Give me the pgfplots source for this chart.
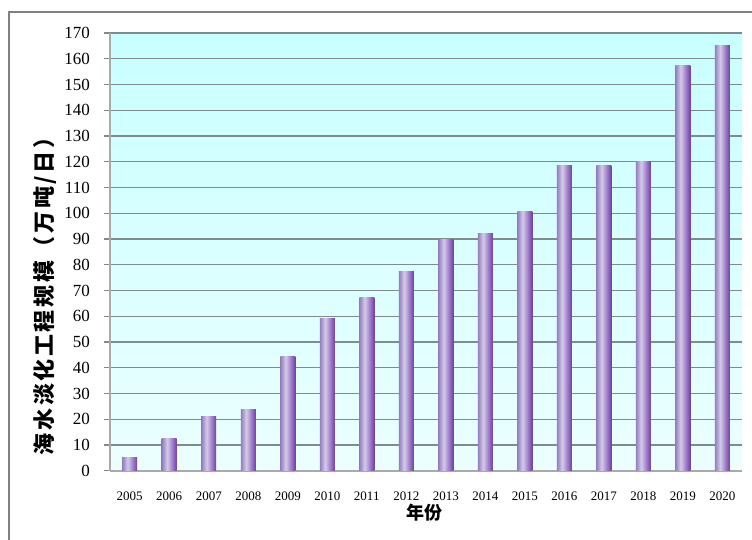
\documentclass[border=0pt]{standalone}
\usepackage{fontspec}
\setmainfont{Liberation Serif}
\newfontfamily\cjk{Noto Sans CJK SC}
\newfontfamily\cjkwide{Noto Sans CJK SC}[LetterSpace=12]
\usepackage{pgfplots}
\pgfplotsset{compat=1.18}

\definecolor{gridc}{RGB}{128,140,140}
\definecolor{framec}{RGB}{128,128,128}
\definecolor{axisc}{RGB}{170,170,170}
\definecolor{bgtop}{RGB}{200,255,255}
\definecolor{bgbot}{RGB}{236,255,255}
\definecolor{barA}{RGB}{145,125,190}
\definecolor{barB}{RGB}{212,202,232}
\definecolor{barC}{RGB}{140,100,190}
\definecolor{barD}{RGB}{112,62,168}
\pgfdeclarehorizontalshading{barshade}{100bp}{color(0bp)=(barA); color(25bp)=(barA); color(43bp)=(barB); color(66bp)=(barC); color(75bp)=(barD); color(100bp)=(barD)}

\begin{document}
\begin{tikzpicture}
\useasboundingbox (-110bp,-69.2bp) rectangle (642bp,470.8bp);
% outer frame (cropped on the right and bottom)
\draw[framec, line width=2bp] (-101bp,-69.2bp) -- (-101bp,458.8bp) -- (642bp,458.8bp);

\begin{axis}[
  at={(0,0)}, anchor=south west,
  scale only axis,
  width=632bp, height=437.8bp,
  xmin=-0.5, xmax=15.5,
  ymin=0, ymax=170,
  xtick={0,...,15},
  xticklabels={2005,2006,2007,2008,2009,2010,2011,2012,2013,2014,2015,2016,2017,2018,2019,2020},
  ytick={0,10,...,170},
  axis x line*=bottom,
  axis y line*=left,
  x axis line style={draw=axisc, line width=1.6bp},
  y axis line style={draw=axisc, line width=2bp},
  major x tick style={draw=none},
  major y tick style={draw=gridc, line width=1.2bp},
  tick align=outside,
  major tick length=6bp,
  ymajorgrids,
  grid style={draw=gridc, line width=1.2bp},
  /pgf/number format/assume math mode=true,
  yticklabel style={font=\fontsize{17bp}{20bp}\selectfont, anchor=east, inner sep=0pt, xshift=-14bp},
  xticklabel style={font=\fontsize{13bp}{15bp}\selectfont, anchor=base, inner sep=0pt, yshift=-24bp},
  axis background/.style={shade, top color=bgtop, bottom color=bgbot},
  xlabel={\cjk\bfseries 年份},
  xlabel style={at={(axis description cs:0.498,-0.096)}, anchor=center, font=\fontsize{18bp}{20bp}\selectfont},
  ylabel={\cjkwide\bfseries 海水淡化工程规模（万吨/日）},
  ylabel style={at={(axis description cs:-0.103,0.411)}, anchor=center, rotate=0, font=\fontsize{22bp}{24bp}\selectfont},
  barstyle/.style={ybar, bar width=15bp, draw=none, shade, shading=barshade},
]
% one plot per bar so that each bar gets its own shading
\addplot[barstyle] coordinates {(0,5.0)};
\addplot[barstyle] coordinates {(1,12.4)};
\addplot[barstyle] coordinates {(2,21.0)};
\addplot[barstyle] coordinates {(3,23.9)};
\addplot[barstyle] coordinates {(4,44.4)};
\addplot[barstyle] coordinates {(5,59.0)};
\addplot[barstyle] coordinates {(6,67.1)};
\addplot[barstyle] coordinates {(7,77.3)};
\addplot[barstyle] coordinates {(8,90.0)};
\addplot[barstyle] coordinates {(9,92.3)};
\addplot[barstyle] coordinates {(10,100.7)};
\addplot[barstyle] coordinates {(11,118.6)};
\addplot[barstyle] coordinates {(12,118.6)};
\addplot[barstyle] coordinates {(13,120.0)};
\addplot[barstyle] coordinates {(14,157.4)};
\addplot[barstyle] coordinates {(15,165.1)};
\end{axis}
\end{tikzpicture}
\end{document}
